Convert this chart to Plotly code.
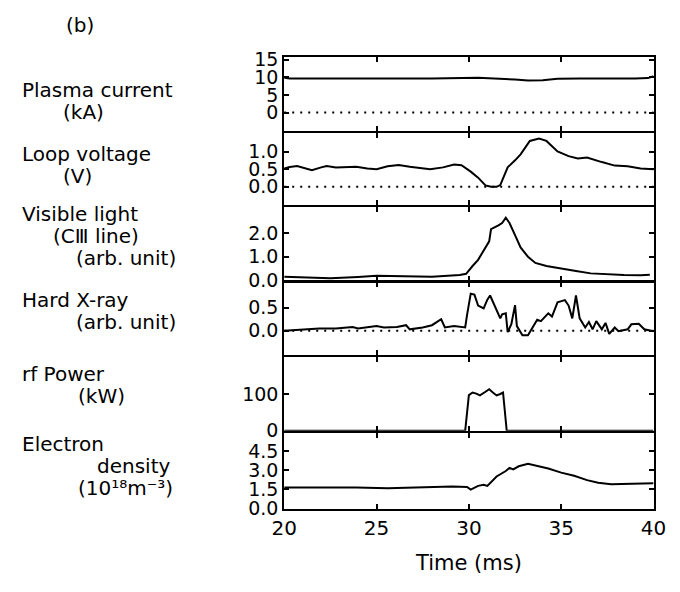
import plotly.graph_objects as go
from plotly.subplots import make_subplots

W, H = 680, 592

# ---------------- data ----------------
t_ip = [20.0, 20.3, 22.0, 25.0, 28.0, 30.5, 31.5, 32.5, 33.2, 34.0, 34.8, 36.0, 39.0, 39.7, 40.0]
plasma_current = [9.9, 9.7, 9.7, 9.6, 9.7, 9.9, 9.7, 9.4, 9.1, 9.2, 9.6, 9.7, 9.7, 9.8, 10.3]

t_lv = [20.0, 20.3, 20.7, 21.1, 21.5, 22.0, 22.3, 22.8, 23.3, 23.9, 24.5, 25.0, 25.6, 26.2,
        26.8, 27.4, 27.9, 28.6, 29.2, 29.6, 30.1, 30.5, 30.9, 31.2, 31.5, 31.7, 32.1, 32.5,
        32.8, 33.3, 33.8, 34.2, 34.8, 35.4, 35.9, 36.4, 36.8, 37.2, 37.9, 38.6, 39.3, 40.0]
loop_voltage = [0.52, 0.56, 0.59, 0.52, 0.47, 0.55, 0.59, 0.55, 0.56, 0.57, 0.52, 0.50, 0.58, 0.62,
                0.57, 0.54, 0.50, 0.55, 0.63, 0.61, 0.43, 0.26, 0.04, 0.0, 0.0, 0.05, 0.55, 0.75,
                0.92, 1.30, 1.37, 1.30, 1.00, 0.87, 0.80, 0.83, 0.76, 0.70, 0.60, 0.58, 0.52, 0.50]

t_vis = [20.0, 21.0, 22.5, 24.0, 25.0, 26.5, 28.0, 29.5, 29.85, 30.2, 30.5, 31.1, 31.2, 31.6,
         31.8, 32.0, 32.2, 32.5, 32.8, 33.2, 33.6, 34.2, 35.1, 35.8, 36.6, 37.5, 38.4, 39.3, 39.8]
visible_light = [0.16, 0.13, 0.09, 0.15, 0.20, 0.18, 0.16, 0.23, 0.28, 0.61, 0.87, 1.65, 2.16, 2.32,
                 2.42, 2.64, 2.42, 1.91, 1.39, 1.00, 0.74, 0.61, 0.48, 0.40, 0.30, 0.26, 0.23, 0.22, 0.24]

t_hx = [20.0, 21.0, 21.9, 22.8, 23.7, 24.0, 25.0, 25.4, 26.1, 26.6, 26.8, 27.5, 28.0, 28.5,
        28.7, 29.2, 29.8, 29.9, 30.1, 30.3, 30.5, 30.8, 31.0, 31.15, 31.4, 31.7, 31.8, 32.0,
        32.1, 32.3, 32.5, 32.6, 32.9, 33.2, 33.7, 33.9, 34.3, 34.5, 34.8, 35.2, 35.4, 35.6,
        35.8, 36.0, 36.3, 36.5, 36.7, 36.9, 37.2, 37.4, 37.6, 37.9, 38.1, 38.6, 38.8, 39.2,
        39.5, 40.0]
hard_xray = [0.0, 0.03, 0.05, 0.05, 0.08, 0.05, 0.10, 0.07, 0.08, 0.12, 0.03, 0.07, 0.12, 0.25,
             0.07, 0.10, 0.07, 0.34, 0.81, 0.79, 0.55, 0.49, 0.68, 0.77, 0.55, 0.27, 0.36, 0.38,
             -0.03, 0.14, 0.56, 0.10, -0.10, -0.10, 0.24, 0.21, 0.38, 0.31, 0.62, 0.67, 0.55, 0.27,
             0.77, 0.27, 0.07, 0.19, 0.03, 0.21, 0.03, 0.17, -0.07, 0.07, -0.01, 0.03, 0.14, 0.15,
             0.03, -0.01]

t_rf = [20.0, 29.8, 30.0, 30.2, 30.4, 30.6, 30.9, 31.1, 31.3, 31.5, 31.7, 31.85, 32.05, 40.0]
rf_power = [0, 0, 97, 104, 101, 96, 106, 113, 104, 96, 100, 104, 0, 0]

t_ne = [20.0, 22.0, 23.9, 25.6, 27.3, 29.1, 29.9, 30.1, 30.5, 30.8, 31.0, 31.5, 32.0, 32.2,
        32.4, 32.7, 33.2, 33.6, 34.3, 35.0, 35.7, 36.4, 37.0, 37.7, 38.6, 39.5, 40.0]
electron_density = [1.66, 1.66, 1.66, 1.60, 1.66, 1.74, 1.70, 1.49, 1.78, 1.86, 1.78, 2.52, 2.95, 3.19,
                    3.07, 3.32, 3.51, 3.39, 3.14, 2.82, 2.57, 2.23, 2.03, 1.91, 1.96, 1.98, 1.98]

x_ticks = [20, 25, 30, 35, 40]
panel_ranges = [[-5.3, 15.7], [-0.52, 1.52], [0, 3.09], [-0.53, 1.056], [0, 201], [0, 5.96]]
panel_ticks = [[0, 5, 10, 15], [0.0, 0.5, 1.0], [0.0, 1.0, 2.0], [0.0, 0.5], [0, 100],
               [0.0, 1.5, 3.0, 4.5]]
panel_ticktext = [["0", "5", "10", "15"], ["0.0", "0.5", "1.0"], ["0.0", "1.0", "2.0"],
                  ["0.0", "0.5"], ["0", "100"], ["0.0", "1.5", "3.0", "4.5"]]
zero_line_panels = [1, 2, 4]

labels = [
    ["Plasma current", "(kA)"],
    ["Loop voltage", "(V)"],
    ["Visible light", "(CⅢ line)", "(arb. unit)"],
    ["Hard X-ray", "(arb. unit)"],
    ["rf Power", "(kW)"],
    ["Electron", "density", "(10¹⁸m⁻³)"],
]

# ---------------- layout geometry (pixels) ----------------
borders = [50, 127.5, 204, 282, 359, 437.5, 517]
LW = 2  # frame line width
x_left, x_right = 282, 666
label_pos = [
    [(7, 84), (50, 107)],
    [(7, 150), (50, 173)],
    [(7, 212), (40, 235), (63, 258)],
    [(7, 301), (63, 324)],
    [(7, 378), (65, 401)],
    [(7, 450), (85, 473), (65, 496)],
]

FONT = "DejaVu Sans"
fig = make_subplots(rows=6, cols=1, shared_xaxes=True, vertical_spacing=0)

series = [(t_ip, plasma_current), (t_lv, loop_voltage), (t_vis, visible_light),
          (t_hx, hard_xray), (t_rf, rf_power), (t_ne, electron_density)]
for i, (tx, vy) in enumerate(series, start=1):
    fig.add_trace(go.Scatter(x=tx, y=vy, mode="lines",
                             line=dict(color="black", width=2), showlegend=False),
                  row=i, col=1)

for p in zero_line_panels:
    fig.add_hline(y=0, line=dict(color="black", width=2, dash="2px,6px"), row=p, col=1)

for i in range(6):
    # shrink each panel by half a line width at inner borders so adjacent frame lines coincide
    top = borders[i] + (LW / 2 if i > 0 else 0)
    bot = borders[i + 1] - (LW / 2 if i < 5 else 0)
    dom = [1 - bot / H, 1 - top / H]
    fig.update_yaxes(domain=dom, range=panel_ranges[i], tickvals=panel_ticks[i],
                     ticktext=panel_ticktext[i], row=i + 1, col=1)
    fig.update_xaxes(domain=[x_left / W, x_right / W], range=[20, 40], tickvals=x_ticks,
                     showticklabels=(i == 5), row=i + 1, col=1)

common = dict(showline=True, linecolor="black", linewidth=LW, mirror="ticks",
              ticks="inside", ticklen=5, tickwidth=1.5, tickcolor="black",
              showgrid=False, zeroline=False,
              tickfont=dict(family=FONT, size=19, color="black"))
fig.update_xaxes(**common)
fig.update_yaxes(**common)
fig.update_xaxes(tickfont=dict(family=FONT, size=20, color="black"), row=6, col=1)

ann = []
for lines, poss in zip(labels, label_pos):
    for txt, (px, py) in zip(lines, poss):
        ann.append(dict(text=txt, xref="paper", yref="paper", x=px / W, y=1 - py / H,
                        xanchor="left", yanchor="middle", showarrow=False,
                        font=dict(family=FONT, size=20, color="black")))
ann.append(dict(text="(b)", xref="paper", yref="paper", x=70 / W, y=1 - 17 / H,
                xanchor="center", yanchor="middle", showarrow=False,
                font=dict(family=FONT, size=20, color="black")))
ann.append(dict(text="Time (ms)", xref="paper", yref="paper", x=474 / W, y=1 - 573 / H,
                xanchor="center", yanchor="middle", showarrow=False,
                font=dict(family=FONT, size=21, color="black")))

fig.update_layout(width=W, height=H, autosize=False,
                  margin=dict(l=0, r=0, t=0, b=0),
                  paper_bgcolor="white", plot_bgcolor="white",
                  annotations=ann, showlegend=False)

fig.write_html("out.html")
